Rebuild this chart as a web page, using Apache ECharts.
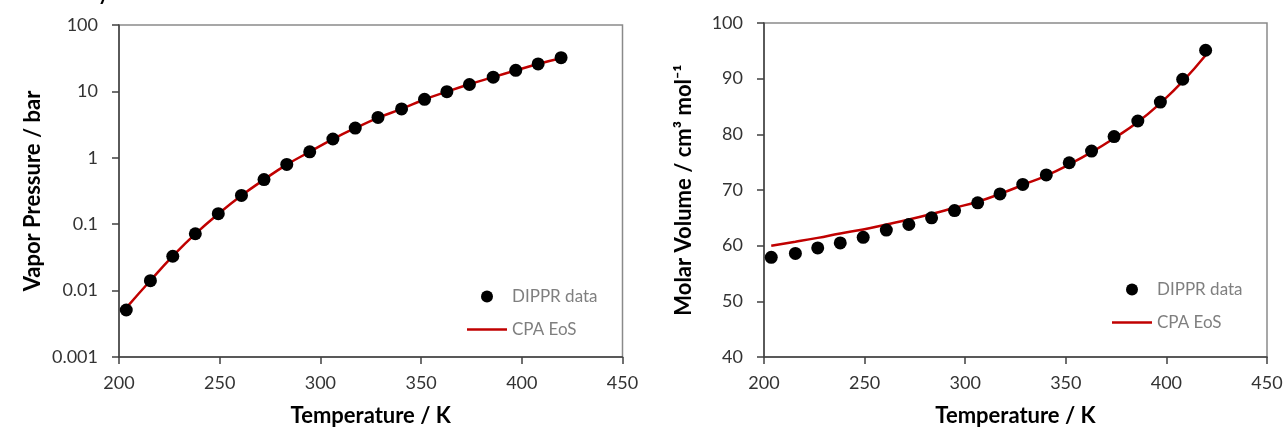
<!DOCTYPE html>
<html>
<head>
<meta charset="utf-8">
<script src="https://cdn.jsdelivr.net/npm/echarts@6/dist/echarts.min.js"></script>
<style>
html,body{margin:0;padding:0;background:#fff;}
#chart{width:1287px;height:432px;}
</style>
</head>
<body>
<div id="chart"></div>
<script>
// Temperatures (K) of DIPPR points / CPA curve nodes
const temps = [203.6, 215.6, 226.7, 237.9, 249.3, 260.8, 272.0, 283.3, 294.7, 306.2, 317.3, 328.6, 340.3, 351.7, 362.8, 374.0, 385.8, 397.0, 408.1, 419.5];
// Left chart: vapor pressure (bar)
const dipprPressure = [0.0051, 0.0141, 0.0329, 0.0718, 0.144, 0.271, 0.470, 0.794, 1.23, 1.92, 2.80, 4.05, 5.45, 7.60, 9.89, 12.7, 16.4, 20.8, 25.9, 32.2];
const cpaPressure = [0.0055, 0.0142, 0.0330, 0.0715, 0.143, 0.270, 0.470, 0.79, 1.23, 1.91, 2.80, 4.00, 5.45, 7.55, 9.9, 12.8, 16.4, 20.7, 25.9, 31.5];
// Right chart: molar volume (cm3/mol)
const dipprVolume = [57.9, 58.6, 59.6, 60.5, 61.5, 62.8, 63.8, 65.0, 66.3, 67.7, 69.3, 71.0, 72.7, 74.9, 77.0, 79.6, 82.4, 85.8, 89.9, 95.1];
const cpaVolume = [60.0, 60.7, 61.4, 62.2, 62.9, 63.8, 64.7, 65.7, 66.8, 67.9, 69.3, 70.9, 72.6, 74.6, 76.8, 79.3, 82.2, 85.6, 89.5, 94.2];
// Tick labels
const pressureTicks = ['0.001', '0.01', '0.1', '1', '10', '100'];
const seriesNames = ['DIPPR data', 'CPA EoS'];

const pairs = (xs, ys) => xs.map((x, i) => [x, ys[i]]);
const FONT = 'Lato';
const axisDark = '#404040';
const borderGray = '#8a8a8a';
const RED = '#c00000';

function xAxisCfg(gridIndex) {
  return {
    gridIndex, type: 'value', min: 200, max: 450, interval: 50,
    name: 'Temperature / K', nameLocation: 'middle', nameGap: 48,
    nameTextStyle: {fontFamily: FONT, fontSize: 22, fontWeight: 'bold', color: '#000'},
    axisLine: {show: true, lineStyle: {color: axisDark, width: 1.5}},
    axisTick: {show: true, inside: false, length: 7, lineStyle: {color: axisDark, width: 1.5}},
    axisLabel: {fontFamily: FONT, fontSize: 18, color: '#333', margin: 17},
    splitLine: {show: false}
  };
}
function yAxisBase(gridIndex) {
  return {
    gridIndex, nameLocation: 'middle', nameRotate: 90,
    nameTextStyle: {fontFamily: FONT, fontSize: 22, fontWeight: 'bold', color: '#000'},
    axisLine: {show: true, lineStyle: {color: axisDark, width: 1.5}},
    axisTick: {show: true, inside: false, length: 7, lineStyle: {color: axisDark, width: 1.5}},
    axisLabel: {fontFamily: FONT, fontSize: 18, color: '#333', margin: 21},
    splitLine: {show: false}
  };
}
const legendData = [
  {name: seriesNames[0], icon: 'circle'},
  {name: seriesNames[1], icon: 'path://M0,0L40,0L40,2.5L0,2.5Z'}
];

const chart = echarts.init(document.getElementById('chart'), null, {renderer: 'canvas'});
const option = {
  backgroundColor: '#fff',
  animation: false,
  grid: [
    {left: 119, top: 25, width: 503.5, height: 335.5, show: true, borderColor: borderGray, borderWidth: 1.5, containLabel: false},
    {left: 764, top: 23, width: 503, height: 335, show: true, borderColor: borderGray, borderWidth: 1.5, containLabel: false}
  ],
  xAxis: [xAxisCfg(0), xAxisCfg(1)],
  yAxis: [
    Object.assign(yAxisBase(0), {
      type: 'log', logBase: 10, min: 0.001, max: 100,
      name: 'Vapor Pressure / bar', nameGap: 75,
      axisLabel: Object.assign(yAxisBase(0).axisLabel, {formatter: (v, i) => pressureTicks[i]})
    }),
    Object.assign(yAxisBase(1), {
      type: 'value', min: 40, max: 100, interval: 10,
      name: 'Molar Volume / cm³ mol⁻¹', nameGap: 69
    })
  ],
  legend: [
    {orient: 'vertical', left: 462, top: 283, itemWidth: 40, itemHeight: 12, itemGap: 16,
     data: legendData, selectedMode: false, symbolKeepAspect: true,
     textStyle: {fontFamily: FONT, fontSize: 17, color: '#7f7f7f'}},
    {orient: 'vertical', left: 1107, top: 276, itemWidth: 40, itemHeight: 12, itemGap: 16,
     data: legendData, selectedMode: false, symbolKeepAspect: true,
     textStyle: {fontFamily: FONT, fontSize: 17, color: '#7f7f7f'}}
  ],
  graphic: [
    {type: 'text', left: 98, top: -16, style: {text: 'y', fontFamily: FONT, fontSize: 20, fontWeight: 'bold', fill: '#000'}}
  ],
  series: [
    {name: seriesNames[1], type: 'line', xAxisIndex: 0, yAxisIndex: 0, data: pairs(temps, cpaPressure),
     smooth: true, symbol: 'none', lineStyle: {color: RED, width: 2.5}, itemStyle: {color: RED}, z: 2},
    {name: seriesNames[0], type: 'scatter', xAxisIndex: 0, yAxisIndex: 0, data: pairs(temps, dipprPressure),
     symbol: 'circle', symbolSize: 13, itemStyle: {color: '#000', opacity: 1}, z: 3},
    {name: seriesNames[1], type: 'line', xAxisIndex: 1, yAxisIndex: 1, data: pairs(temps, cpaVolume),
     smooth: true, symbol: 'none', lineStyle: {color: RED, width: 2.5}, itemStyle: {color: RED}, z: 2},
    {name: seriesNames[0], type: 'scatter', xAxisIndex: 1, yAxisIndex: 1, data: pairs(temps, dipprVolume),
     symbol: 'circle', symbolSize: 13, itemStyle: {color: '#000', opacity: 1}, z: 3}
  ]
};
chart.setOption(option);
</script>
</body>
</html>
